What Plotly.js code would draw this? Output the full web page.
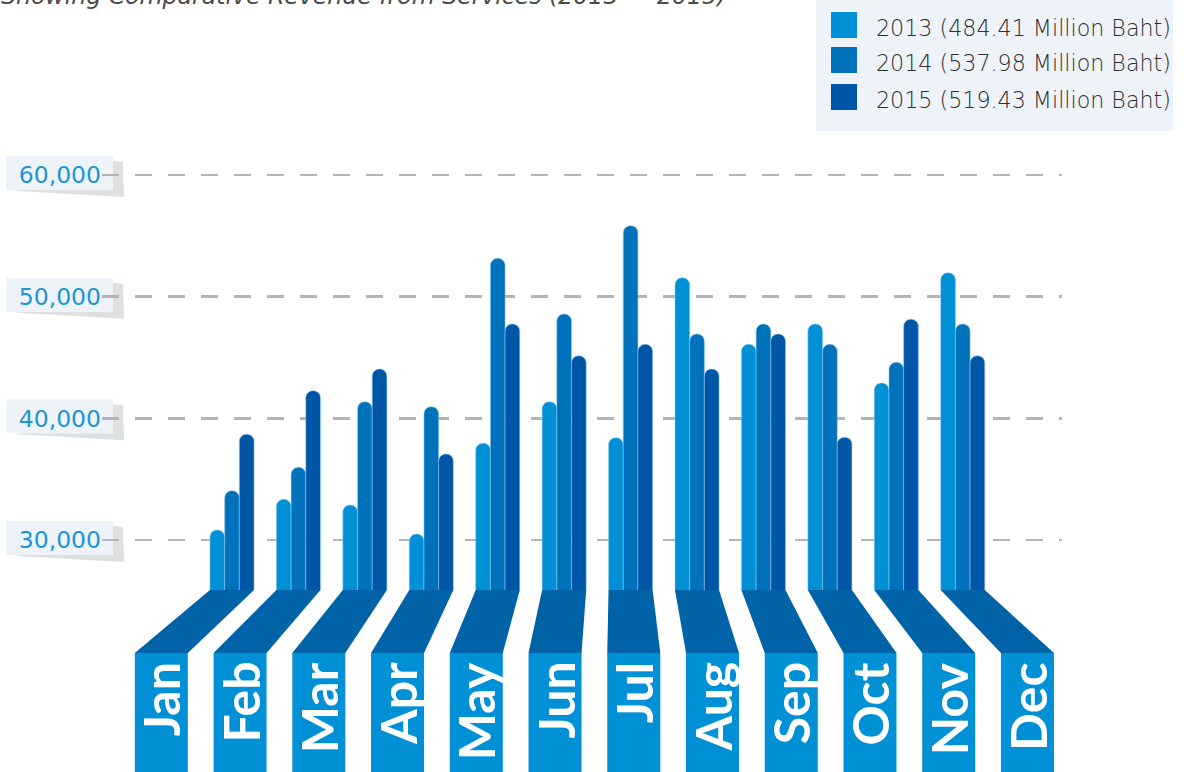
<!DOCTYPE html>
<html>
<head>
<meta charset="utf-8">
<script src="https://cdn.plot.ly/plotly-3.0.1.min.js"></script>
<style>
html,body{margin:0;padding:0;background:#ffffff;}
#chart{width:1184px;height:772px;}
</style>
</head>
<body>
<div id="chart"></div>
<script>
// ---------- data ----------
const months = ['Jan','Feb','Mar','Apr','May','Jun','Jul','Aug','Sep','Oct','Nov','Dec'];
const seriesNames = ['2013 (484.41 Million Baht)','2014 (537.98 Million Baht)','2015 (519.43 Million Baht)'];
const rev2013 = [30820, 33340, 32880, 30490, 37950, 41360, 38410, 51550, 46080, 47750, 42900, 51960];
const rev2014 = [34050, 35970, 41360, 40950, 53150, 48570, 55830, 46930, 47750, 46080, 44600, 47750];
const rev2015 = [38690, 42270, 44050, 37070, 47750, 45140, 46080, 44050, 46930, 38440, 48140, 45140];
const tickVals = [30000, 40000, 50000, 60000];
const titleText = 'Showing Comparative Revenue from Services (2013 \u2014 2015)';

// ---------- style / layout constants ----------
const colors = ['#0090d6', '#0072bc', '#0056a6'];
const ribbonColor = '#0063a7';
const labelBoxColor = '#0090d6';
const panelColor = '#eef2f9';
const L = 102, R = 1062, T = 140, B = 590;
const PX = p => (p - L) / (R - L);
const PY = p => (B - p) / (B - T);

const seriesVals = [rev2013, rev2014, rev2015];
const traces = seriesVals.map((vals, k) => ({
  type: 'bar',
  name: seriesNames[k],
  x: months,
  y: vals,
  marker: {
    color: colors[k],
    cornerradius: 7,
    line: {color: 'rgba(140,200,240,0.55)', width: 1}
  },
  hoverinfo: 'x+y+name',
  showlegend: false
}));

const shapes = [];
const annotations = [];

// y tick label panels (shadow + box)
tickVals.forEach(v => {
  shapes.push({
    type: 'path', layer: 'below',
    xref: 'paper', yref: 'y', xsizemode: 'pixel', ysizemode: 'pixel',
    xanchor: 0, yanchor: v,
    path: 'M 11,14 L 21,13 L 22,-22 L -85,-16 L -85,-15 L 11,-15 Z',
    fillcolor: 'rgba(190,192,196,0.5)', line: {width: 0}
  });
  shapes.push({
    type: 'rect', layer: 'between',
    xref: 'paper', yref: 'y', ysizemode: 'pixel', yanchor: v,
    x0: PX(6), x1: PX(113), y0: -15, y1: 19,
    fillcolor: panelColor, line: {width: 0}
  });
});

// ribbons + month label boxes
const halfGroup = 0.332;
const c0 = -1.064, dc = 1.1853, halfBox = 0.399;
const yTopBox = PY(653), yBottomBox = PY(800);
months.forEach((m, i) => {
  const c = c0 + dc * i;
  shapes.push({
    type: 'path', layer: 'above', xref: 'x', yref: 'paper',
    path: `M ${i - halfGroup},0 L ${i + halfGroup},0 L ${c + halfBox},${yTopBox} L ${c - halfBox},${yTopBox} Z`,
    fillcolor: ribbonColor, line: {width: 0}
  });
  shapes.push({
    type: 'rect', layer: 'above', xref: 'x', yref: 'paper',
    x0: c - halfBox, x1: c + halfBox, y0: yBottomBox, y1: yTopBox,
    fillcolor: labelBoxColor, line: {width: 0}
  });
  annotations.push({
    xref: 'x', yref: 'paper', x: c, y: PY(660),
    xanchor: 'center', yanchor: 'top',
    text: m, textangle: -90, showarrow: false,
    font: {family: 'Lato', size: 50, weight: 'bold', color: '#ffffff'}
  });
});

// custom legend panel
shapes.push({
  type: 'rect', layer: 'above', xref: 'paper', yref: 'paper',
  x0: PX(816), x1: PX(1173), y0: PY(131), y1: PY(-5),
  fillcolor: panelColor, line: {width: 0}
});
const sqTop = [12, 47, 84];
const txtMid = [28, 63, 100];
seriesNames.forEach((n, k) => {
  shapes.push({
    type: 'rect', layer: 'above', xref: 'paper', yref: 'paper',
    x0: PX(831), x1: PX(857), y0: PY(sqTop[k] + 26), y1: PY(sqTop[k]),
    fillcolor: colors[k], line: {width: 0}
  });
  annotations.push({
    xref: 'paper', yref: 'paper', x: PX(874), y: PY(txtMid[k]),
    xanchor: 'left', yanchor: 'middle', showarrow: false,
    text: n, font: {family: 'DejaVu Sans', size: 22.2, weight: 300, color: '#2e2e2e'}
  });
});

// title (cut at top)
annotations.push({
  xref: 'paper', yref: 'paper', x: PX(-1), y: PY(12),
  xanchor: 'left', yanchor: 'bottom', showarrow: false,
  text: titleText,
  font: {family: 'DejaVu Sans', size: 23.6, style: 'italic', weight: 300, color: '#4a4a4a'}
});

const layout = {
  width: 1184, height: 772,
  margin: {l: L, r: 1184 - R, t: T, b: 772 - B, pad: 0},
  paper_bgcolor: '#ffffff', plot_bgcolor: 'rgba(0,0,0,0)',
  barmode: 'group', bargap: 0.337, bargroupgap: 0,
  showlegend: false,
  xaxis: {
    type: 'category', range: [-1.957, 12.494],
    showticklabels: false, showgrid: false, zeroline: false, showline: false, ticks: ''
  },
  yaxis: {
    range: [25890, 62877],
    tickvals: tickVals, tickformat: ',',
    tickfont: {family: 'DejaVu Sans', size: 23.5, color: '#1b95d5'},
    showgrid: true, gridcolor: '#b4b4b7', gridwidth: 2.5, griddash: '17px,16px',
    zeroline: false, showline: false, ticks: ''
  },
  shapes: shapes,
  annotations: annotations
};

Plotly.newPlot('chart', traces, layout, {displayModeBar: false, staticPlot: true});
</script>
</body>
</html>
